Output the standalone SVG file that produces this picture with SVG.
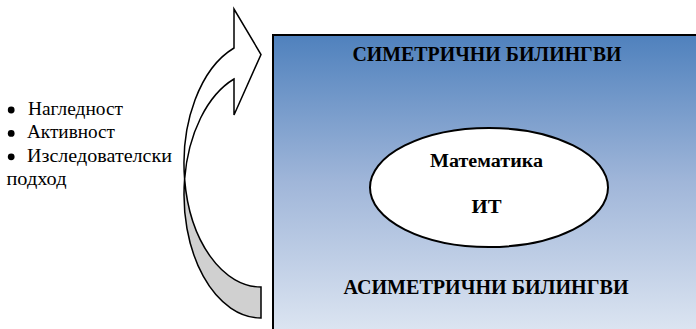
<svg xmlns="http://www.w3.org/2000/svg" width="696" height="329" viewBox="0 0 696 329">
<style>
.t{font-family:"Liberation Serif","Times New Roman","DejaVu Serif",serif;fill:#000}
.b{font-weight:bold}
.ol{stroke:#000;stroke-width:1.5;stroke-linejoin:miter}
.bul{fill:#000}
</style>
<defs>
<linearGradient id="g" x1="0" y1="35" x2="0" y2="329" gradientUnits="userSpaceOnUse">
<stop offset="0" stop-color="#4f81bd"/>
<stop offset="0.5" stop-color="#a0b6d9"/>
<stop offset="1" stop-color="#dbe4f1"/>
</linearGradient>
</defs>
<rect width="696" height="329" fill="#fff"/>
<g id="frame">
<rect x="273" y="35" width="430" height="310" fill="url(#g)" stroke="#000" stroke-width="2"/>
<text class="t b" x="352.5" y="61" font-size="20" textLength="269" lengthAdjust="spacingAndGlyphs">СИМЕТРИЧНИ БИЛИНГВИ</text>
<text class="t b" x="343.5" y="294" font-size="20" textLength="285" lengthAdjust="spacingAndGlyphs">АСИМЕТРИЧНИ БИЛИНГВИ</text>
</g>
<g id="core">
<ellipse cx="489" cy="187.5" rx="119" ry="59.5" fill="#fff" stroke="#000" stroke-width="2"/>
<text class="t b" x="430" y="166.5" font-size="18" textLength="113" lengthAdjust="spacingAndGlyphs">Математика</text>
<text class="t b" x="471.5" y="213" font-size="18" textLength="30" lengthAdjust="spacingAndGlyphs">ИТ</text>
</g>
<g id="principles">
<circle class="bul" cx="11.2" cy="110" r="3.4"/>
<circle class="bul" cx="11.2" cy="133.4" r="3.4"/>
<circle class="bul" cx="11.2" cy="156.8" r="3.4"/>
<text class="t" font-size="18" x="28" y="114.5" textLength="95" lengthAdjust="spacingAndGlyphs">Нагледност</text>
<text class="t" font-size="18" x="27" y="138" textLength="88" lengthAdjust="spacingAndGlyphs">Активност</text>
<text class="t" font-size="18" x="27" y="161.5" textLength="145" lengthAdjust="spacingAndGlyphs">Изследователски</text>
<text class="t" font-size="18" x="6.5" y="185" textLength="60" lengthAdjust="spacingAndGlyphs">подход</text>
</g>
<g id="connectors">
<path class="ol" fill="#d0d0d0" d="M184.61 179.1 A77 123.4 0 0 0 261 287 L261 318 A77 123.4 0 0 1 184.61 179.1 Z"/>
<path class="ol" fill="#fff" d="M234 48 A77 123.4 0 0 0 184.61 179.1 A77 123.4 0 0 1 234 79 L234 115 L261 54.5 L234 9 Z"/>
</g>
</svg>
